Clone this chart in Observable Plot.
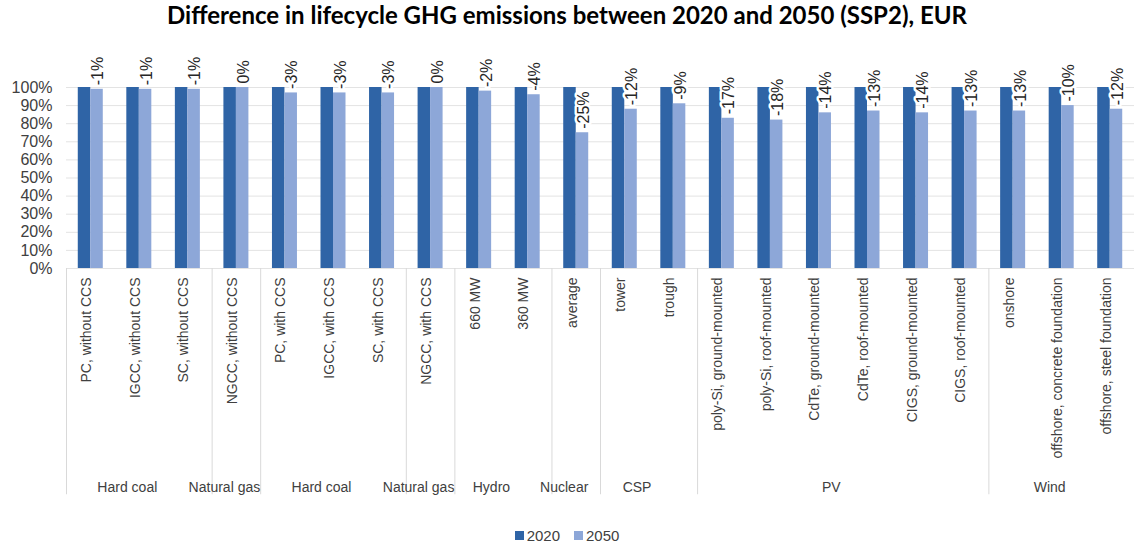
<!DOCTYPE html>
<html>
<head>
<meta charset="utf-8">
<script src="https://cdn.jsdelivr.net/npm/d3@7"></script>
<script src="https://cdn.jsdelivr.net/npm/@observablehq/plot@0.6"></script>
<style>
  body { margin: 0; background: #fff; font-family: "Liberation Sans", Arial, sans-serif; }
  #title { height: 40px; line-height: 40px; text-align: center; font: bold 24px Lato, "Noto Sans", sans-serif; color: #000; width: 1134px; }
  #legend { width: 1134px; height: 23px; padding-top: 14px; display: flex; justify-content: center; align-items: center; gap: 14px; font-size: 15px; color: #404040; }
  .sw { display: inline-flex; align-items: center; gap: 3px; }
  .sq { width: 9px; height: 9px; display: inline-block; }
</style>
</head>
<body>
<div id="title">Difference in lifecycle GHG emissions between 2020 and 2050 (SSP2), EUR</div>
<div id="chart"></div>
<div id="legend"></div>
<script>
const categories = [
  "PC, without CCS", "IGCC, without CCS", "SC, without CCS", "NGCC, without CCS",
  "PC, with CCS", "IGCC, with CCS", "SC, with CCS", "NGCC, with CCS",
  "660 MW", "360 MW", "average", "tower", "trough",
  "poly-Si, ground-mounted", "poly-Si, roof-mounted", "CdTe, ground-mounted", "CdTe, roof-mounted",
  "CIGS, ground-mounted", "CIGS, roof-mounted",
  "onshore", "offshore, concrete foundation", "offshore, steel foundation"
];
const years = ["2020", "2050"];
const values2020 = [100,100,100,100,100,100,100,100,100,100,100,100,100,100,100,100,100,100,100,100,100,100];
const values2050 = [99,99,99,100,97,97,97,100,98,96,75,88,91,83,82,86,87,86,87,87,90,88];
const changeLabels = ["-1%","-1%","-1%","0%","-3%","-3%","-3%","0%","-2%","-4%","-25%","-12%","-9%","-17%","-18%","-14%","-13%","-14%","-13%","-13%","-10%","-12%"];
const groupNames = ["Hard coal","Natural gas","Hard coal","Natural gas","Hydro","Nuclear","CSP","PV","Wind"];
const groupSizes = [3,1,3,1,2,1,2,6,3];
const yTicks = [0,0.1,0.2,0.3,0.4,0.5,0.6,0.7,0.8,0.9,1];
const colors = ["#2f64a6", "#8da7d8"];

const W = 1134, H = 470, ML = 66, MR = 0, MT = 47, MB = 242;
const step = (W - ML - MR) / categories.length;
const barW = 12.5;
const side = (step - 2 * barW) / 2;

const rows = [];
categories.forEach((c, i) => {
  rows.push({cat: c, year: "2020", value: values2020[i] / 100});
  rows.push({cat: c, year: "2050", value: values2050[i] / 100, label: changeLabels[i]});
});
const r2020 = rows.filter(d => d.year === "2020");
const r2050 = rows.filter(d => d.year === "2050");

const groupStarts = [];
const groupMidInt = [], groupMidHalf = [];
let s = 0;
groupNames.forEach((g, k) => {
  const n = groupSizes[k];
  groupStarts.push(categories[s]);
  const c = s + (n - 1) / 2;
  const rec = {name: g, cat: categories[Math.floor(c)]};
  if (c === Math.floor(c)) groupMidInt.push(rec); else groupMidHalf.push(rec);
  s += n;
});

const chart = Plot.plot({
  width: W, height: H,
  marginLeft: ML, marginRight: MR, marginTop: MT, marginBottom: MB,
  style: {fontFamily: "'Liberation Sans', Arial, sans-serif", background: "#fff"},
  x: {domain: categories, padding: 0, round: false, axis: null},
  y: {domain: [0, 1], axis: null},
  marks: [
    Plot.ruleY(yTicks, {y: d => d, stroke: "#e3e3e3", strokeWidth: 1}),
    Plot.barY(r2020, {x: "cat", y: "value", fill: colors[0], insetLeft: side, insetRight: side + barW}),
    Plot.barY(r2050, {x: "cat", y: "value", fill: colors[1], insetLeft: side + barW, insetRight: side}),
    Plot.text(r2050, {x: "cat", y: "value", text: "label", rotate: -90, textAnchor: "start", lineAnchor: "middle",
      dx: barW / 2 + 1, dy: -4, fontSize: 16, fill: "#262626", stroke: "white", strokeWidth: 5}),
    Plot.axisY({ticks: yTicks, tickFormat: d3.format(".0%"), tickSize: 0, tickPadding: 14, fontSize: 16, fill: "#404040", label: null}),
    Plot.axisX({tickRotate: -90, tickSize: 0, tickPadding: 9, fontSize: 14, fill: "#404040", label: null, dx: -4}),
    Plot.ruleX(groupStarts, {x: d => d, y1: 0, y2: -1.25, dx: -step / 2, stroke: "#d9d9d9"}),
    Plot.text(groupMidInt, {x: "cat", y: -1.21, text: "name", fontSize: 14, fill: "#404040", dx: -12}),
    Plot.text(groupMidHalf, {x: "cat", y: -1.21, text: "name", fontSize: 14, fill: "#404040", dx: step / 2 - 12})
  ]
});
document.getElementById("chart").appendChild(chart);

const leg = document.getElementById("legend");
years.forEach((y, i) => {
  const sp = document.createElement("span");
  sp.className = "sw";
  sp.innerHTML = `<span class="sq" style="background:${colors[i]}"></span>${y}`;
  leg.appendChild(sp);
});
</script>
</body>
</html>
